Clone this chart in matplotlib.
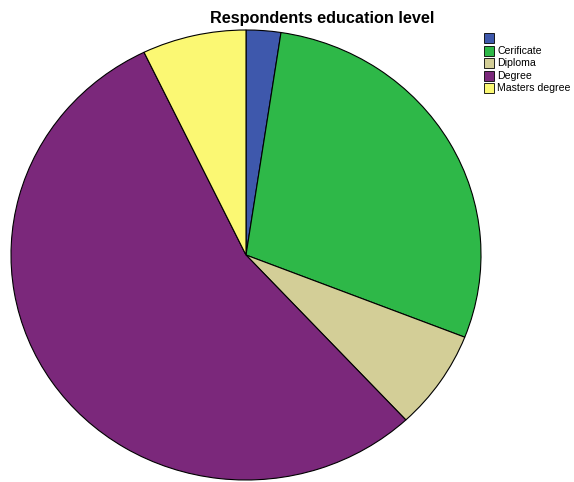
import matplotlib
matplotlib.use("Agg")
import matplotlib.pyplot as plt
from matplotlib.patches import Rectangle

categories = ["", "Cerificate", "Diploma", "Degree", "Masters degree"]
counts = [1, 12, 3, 23, 3]
colors = ["#3E58AC", "#2EB848", "#D3CE97", "#7B287B", "#FBF873"]
title = "Respondents education level"

W, H = 574, 482
fig = plt.figure(figsize=(W / 100, H / 100), dpi=100)
plt.rcParams['font.family'] = ['Liberation Sans', 'DejaVu Sans']

ax = fig.add_axes([11 / W, 2 / H, 470 / W, 450 / H])
ax.pie(counts, colors=colors, startangle=90, counterclock=False,
       wedgeprops=dict(edgecolor="black", linewidth=0.8), radius=1.0)
ax.set_aspect('auto')
ax.set_xlim(-1.0, 1.0)
ax.set_ylim(-1.0, 1.0)
ax.axis('off')

fig.text(322 / W, 1 - 18 / H, title, ha='center', va='center',
         fontsize=11.7, fontweight='bold')

# legend
y0 = 38
dy = 12.6
for i, (lab, c) in enumerate(zip(categories, colors)):
    yc = y0 + i * dy
    fig.patches.append(Rectangle((484 / W, 1 - (yc + 5) / H), 10 / W, 10 / H,
                                 transform=fig.transFigure, facecolor=c,
                                 edgecolor="black", linewidth=0.6))
    fig.text(497 / W, 1 - yc / H, lab, ha='left', va='center', fontsize=7.6)

fig.savefig("out.png", dpi=100)
